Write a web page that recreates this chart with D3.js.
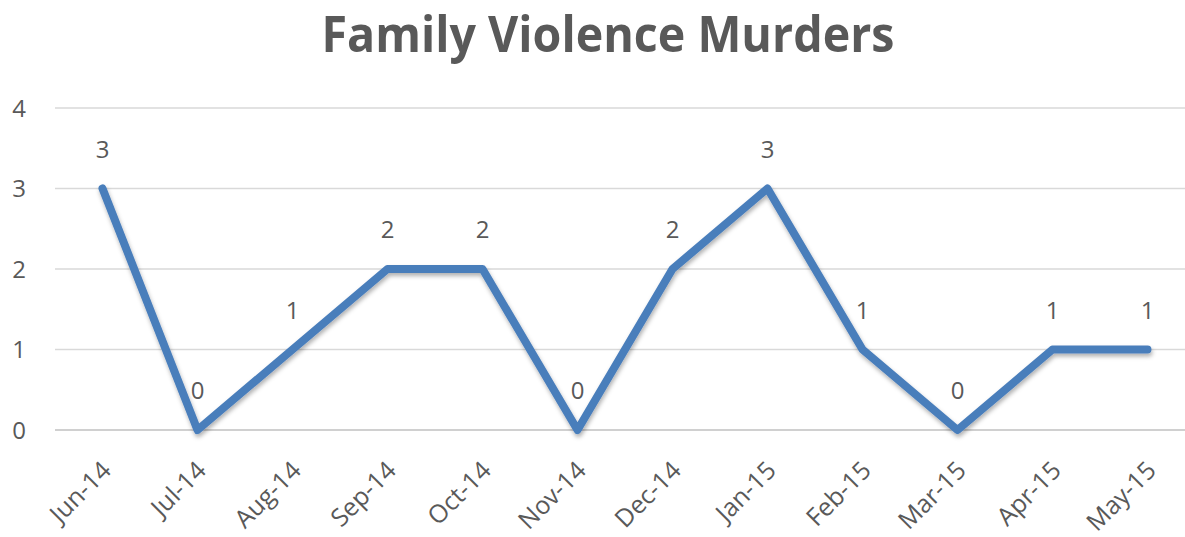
<!DOCTYPE html>
<html>
<head>
<meta charset="utf-8">
<script src="https://cdn.jsdelivr.net/npm/d3@7"></script>
<style>
  body { margin: 0; background: #fff; }
  text { font-family: "Open Sans", "Noto Sans", sans-serif; fill: #595959; }
</style>
</head>
<body>
<svg id="chart" width="1185" height="537"></svg>
<script>
var months = ["Jun-14","Jul-14","Aug-14","Sep-14","Oct-14","Nov-14","Dec-14","Jan-15","Feb-15","Mar-15","Apr-15","May-15"];
var murders = [3, 0, 1, 2, 2, 0, 2, 3, 1, 0, 1, 1];
var yTicks = [0, 1, 2, 3, 4];

var svg = d3.select("#chart"),
    width = +svg.attr("width"),
    height = +svg.attr("height");

var margin = {top: 108, right: -10, bottom: 107, left: 55};

var x = d3.scalePoint()
  .domain(months)
  .range([margin.left, width - margin.right])
  .padding(0.5);

var y = d3.scaleLinear()
  .domain([0, 4])
  .range([height - margin.bottom, margin.top]);

var defs = svg.append("defs");
var f = defs.append("filter").attr("id", "shadow")
  .attr("x", "-10%").attr("y", "-10%").attr("width", "120%").attr("height", "130%");
f.append("feDropShadow")
  .attr("dx", 1).attr("dy", 3).attr("stdDeviation", 2)
  .attr("flood-color", "#000").attr("flood-opacity", 0.3);

// title
svg.append("text")
  .attr("x", 608)
  .attr("y", 52)
  .attr("text-anchor", "middle")
  .attr("font-size", "50px")
  .attr("font-weight", "bold")
  .attr("textLength", 573)
  .attr("lengthAdjust", "spacingAndGlyphs")
  .text("Family Violence Murders");

// gridlines
svg.selectAll(".grid")
  .data(yTicks)
  .enter().append("line")
    .attr("x1", margin.left)
    .attr("x2", width)
    .attr("y1", function(d) { return y(d); })
    .attr("y2", function(d) { return y(d); })
    .attr("stroke", function(d) { return d == 0 ? "#d0d0d0" : "#d9d9d9"; })
    .attr("stroke-width", function(d) { return d == 0 ? 2 : 1.3; });

// y labels
svg.selectAll(".ylab")
  .data(yTicks)
  .enter().append("text")
    .attr("x", 19)
    .attr("y", function(d) { return y(d); })
    .attr("dy", "0.37em")
    .attr("text-anchor", "middle")
    .attr("font-size", "24px")
    .text(function(d) { return d; });

// x labels
svg.selectAll(".xlab")
  .data(months)
  .enter().append("text")
    .attr("transform", function(d) { return "translate(" + (x(d) + 10) + "," + (y(0) + 42) + ") rotate(-45)"; })
    .attr("text-anchor", "end")
    .attr("font-size", "25px")
    .text(function(d) { return d; });

// line
var line = d3.line()
  .x(function(d, i) { return x(months[i]); })
  .y(function(d) { return y(d); });

svg.append("path")
  .datum(murders)
  .attr("d", line)
  .attr("fill", "none")
  .attr("stroke", "#4a7ebb")
  .attr("stroke-width", 8)
  .attr("stroke-linejoin", "round")
  .attr("stroke-linecap", "round")
  .attr("filter", "url(#shadow)");

// data labels
svg.selectAll(".dlab")
  .data(murders)
  .enter().append("text")
    .attr("x", function(d, i) { return x(months[i]); })
    .attr("y", function(d) { return y(d) - 31; })
    .attr("text-anchor", "middle")
    .attr("font-size", "24px")
    .text(function(d) { return d; });
</script>
</body>
</html>
